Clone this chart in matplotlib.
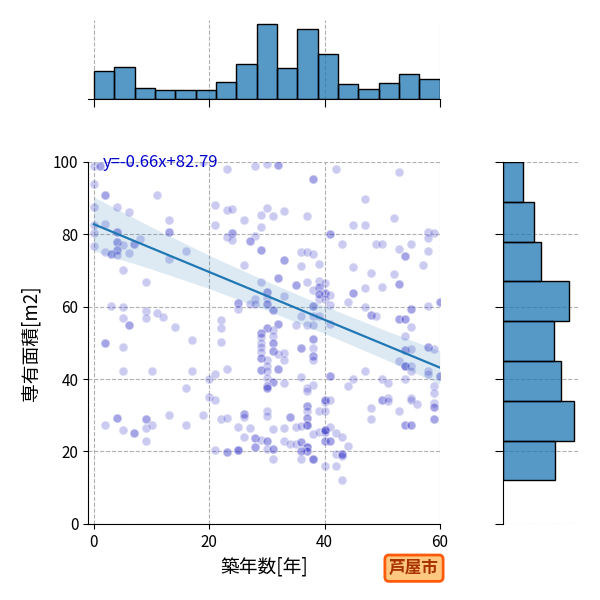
import numpy as np
import matplotlib
matplotlib.use('Agg')
import matplotlib.pyplot as plt

plt.rcParams['font.family'] = ['Noto Sans CJK JP', 'DejaVu Sans']

# (築年数, 専有面積); repeated pairs are the darker (overlapping) dots
points = [
    (0, 99), (1, 99), (1, 99), (6, 100), (19, 100), (0, 94), (2, 91), (2, 91), (11, 91),
    (0, 87.5), (4, 87.6), (6, 86.2), (13, 84), (0, 82.7), (2, 83), (0, 80.4), (4, 80.7), (4, 80.7),
    (13, 80.7), (13, 80.7), (8, 78.8), (4, 77.8), (4, 77.8), (5, 77), (7, 77.2), (7, 77.2),
    (0, 76.7), (2, 75.1), (4, 75.6), (4, 75.6), (3, 74.7), (3, 74.7), (6, 74.9), (4, 74.2),
    (16, 75.5), (13, 73.2), (5, 70.2),
    (23, 98.2), (28, 98.8), (30, 99.4), (32, 99.1), (32, 99.1), (38, 95.4), (38, 95.4), (21, 88.2),
    (23, 86.8), (24, 87.1), (30, 87.3), (33, 86.5), (29, 85.4), (31, 85.2), (37, 85.2), (26, 84),
    (21, 82.7), (29, 82.1), (24, 80.3), (24, 80.3), (23, 79.4), (24, 78.5), (28, 79.6), (27, 78.1),
    (27, 78.1), (29, 75.8), (29, 75.8), (33, 72.8), (33, 72.8), (36, 75.1), (37, 75.1), (38, 74.6),
    (26, 71.4), (36, 71.2), (39, 71.8),
    (42, 98.2), (53, 97.2), (47, 89.9), (52, 84.5), (45, 82.7), (47, 82.7), (41, 80.2), (41, 80.2),
    (58, 80.7), (59, 80.4), (58, 79), (43, 77.2), (49, 77.3), (50, 77.2), (55, 77.3), (53, 76),
    (54, 73.9), (54, 73.9), (58, 75.3), (45, 71), (57, 71.6), (48, 69.3), (52, 69.1),
    (9, 66.7), (3, 60.3), (5, 59.8), (9, 58.9), (11, 58.3), (12, 57.2), (5, 56.9), (9, 56.9),
    (6, 55), (6, 55), (14, 54.4), (2, 50), (2, 50), (5, 48.8), (17, 50.9), (5, 42.2), (10, 42.2),
    (17, 42.2), (20, 39.9), (16, 37.6),
    (32, 68), (32, 68), (29, 66.7), (35, 66.1), (35, 66.1), (37, 66.7), (39, 67.2), (39, 65.5),
    (39, 65.5), (38, 64.6), (30, 64), (30, 64), (33, 63.1), (28, 62.2), (30, 62.4), (25, 61),
    (25, 61), (27, 60.8), (28, 60.8), (30, 60.8), (30, 60.8), (38, 60.1), (38, 60.1), (39, 62),
    (25, 59.4), (31, 59.2), (31, 59.2), (36, 57.5), (38, 57.4), (39, 57.4), (22, 56.2), (22, 54.1),
    (32, 55.3), (32, 55.3), (30, 54.1), (30, 54.1), (31, 53.7), (35, 55), (37, 55), (38, 55),
    (29, 52.8), (29, 52.8), (29, 51.5), (29, 50.1), (29, 48.8), (29, 47.6), (29, 45.9), (29, 45.9),
    (31, 51.8), (31, 50), (31, 50), (31, 47.7), (31, 47.7), (32, 46.8), (33, 47.2), (33, 45.2),
    (38, 51.1), (38, 51.1), (38, 48.6), (38, 46.5), (38, 46.5), (38, 45.2), (36, 48.6), (36, 48.6),
    (22, 50.2), (30, 45.2), (30, 43.5), (29, 42.6), (29, 42.6), (30, 42.2), (32, 42.9), (32, 42.9),
    (30, 40.4), (31, 39.1), (31, 39.1), (30, 38), (30, 38), (33, 38.8), (23, 42.9), (21, 41.5),
    (36, 40.6), (38, 38.5), (37, 37.6),
    (40, 66.6), (40, 63.8), (40, 63.8), (39, 63.6), (39, 63.6), (41, 63.3), (40, 62), (45, 63.8),
    (45, 63.8), (47, 65.2), (50, 65.5), (53, 66.4), (53, 66.4), (44, 61.3), (41, 60.4), (47, 59.9),
    (48, 57.8), (48, 57.8), (49, 57.4), (53, 56.6), (53, 56.6), (54, 56.6), (54, 56.6), (55, 59.4),
    (55, 59.4), (58, 60.3), (60, 61.3), (60, 61.3), (55, 54.4), (54, 52), (54, 48.1), (54, 48.1),
    (55, 48.3), (58, 48.9), (58, 48.9), (59, 48.3), (53, 44.9), (54, 43.5), (54, 43.5), (54, 43.5),
    (55, 43.5), (55, 42.1), (58, 42.2), (58, 41.4), (60, 40.8), (60, 40.8), (41, 40.8), (41, 40.8),
    (45, 40), (47, 42.2), (50, 40), (51, 39), (54, 40), (44, 38.2), (41, 55.3), (59, 38),
    (20, 35), (4, 29.3), (4, 29.3), (2, 27.2), (5, 26), (7, 25.1), (7, 25.1), (9, 29.1), (9, 29.1),
    (9, 26.5), (10, 27.2), (9, 23), (13, 30.2), (16, 27.2), (19, 30.2),
    (30, 37.6), (30, 37.6), (37, 36.8), (21, 34.3), (22, 29.1), (23, 29.3), (26, 30.4), (26, 30.4),
    (26, 29.5), (30, 31.1), (30, 29.7), (34, 29.4), (34, 29.4), (37, 32.5), (37, 32.5), (37, 31.1),
    (37, 29.3), (37, 29.3), (37, 27.2), (37, 27.2), (37, 27.2), (39, 31.3), (40, 33.8), (25, 26.8),
    (27, 26.5), (31, 26.3), (33, 26.5), (35, 26.7), (36, 27), (38, 24.8), (39, 25.5), (40, 25.5),
    (40, 25.5), (26, 24), (28, 23.7), (28, 23.7), (28, 21.3), (28, 21.3), (29, 23.3), (30, 22.8),
    (30, 22.8), (30, 20.7), (31, 20.7), (31, 20.7), (31, 18), (33, 22.8), (34, 22.1), (35, 22.1),
    (36, 22.7), (36, 22.7), (37, 21.2), (37, 21.2), (37, 21.2), (37, 20.1), (37, 20.1), (36, 20.1),
    (36, 20.1), (36, 17.8), (38, 18), (38, 18), (38, 18), (40, 16), (21, 20.5), (23, 19.9),
    (23, 19.9), (25, 20.5), (25, 20.5), (25, 20.5),
    (40, 34.1), (40, 34.1), (41, 34.3), (40, 31.3), (48, 32), (48, 29), (50, 34.1), (50, 34.1),
    (51, 34.9), (51, 34), (53, 31.1), (55, 34.8), (55, 34.3), (56, 33.1), (59, 36.2), (59, 33.3),
    (59, 32.2), (59, 32.2), (59, 29), (59, 29), (54, 27.2), (54, 27.2), (55, 27.2), (55, 27.2),
    (40, 25.8), (40, 25.8), (40, 25.8), (40, 22.8), (40, 22.8), (41, 26.7), (41, 22.8), (41, 22.8),
    (42, 25.1), (43, 23.9), (44, 21.6), (42, 19.4), (43, 19.3), (43, 19.3), (43, 19.3), (43, 18.7),
    (42, 16.1), (43, 12),
]
age = np.array([p[0] for p in points], dtype=float)
area = np.array([p[1] for p in points], dtype=float)

# regression shown on the chart (coefficients from its label) and its confidence band
slope = -0.66
intercept = 82.79
band_x = [0, 10, 20, 30, 40, 50, 60]
band_lo = [75.4, 70.4, 65.0, 59.0, 52.6, 45.8, 38.6]
band_hi = [90.3, 82.0, 74.2, 67.0, 60.2, 53.8, 47.8]

# marginal histogram counts
age_edges = np.linspace(0, 60, 18)
age_counts = [28, 32, 11, 9, 9, 9, 17, 35, 75, 31, 70, 45, 15, 10, 16, 25, 20]
area_edges = [12, 23, 34, 45, 56, 67, 78, 89, 100]
area_counts = [61, 84, 69, 60, 78, 45, 37, 24]

eq_label = 'y=-0.66x+82.79'
city = '芦屋市'

hist_color = '#1f77b4'
grid_kw = dict(color='#b0b0b0', linestyle='--', linewidth=0.8)

fig = plt.figure(figsize=(6, 6), dpi=100)
ax = fig.add_axes([0.147, 0.127, 0.586, 0.603])
ax_top = fig.add_axes([0.147, 0.835, 0.586, 0.131], sharex=ax)
ax_right = fig.add_axes([0.838, 0.127, 0.125, 0.603], sharey=ax)

ax.scatter(age, area, s=40, color='#3030c8', alpha=0.25, edgecolors='white', linewidths=1, zorder=2)
fit_x = np.array([age.min(), age.max()])
ax.fill_between(band_x, band_lo, band_hi, color=hist_color, alpha=0.15, linewidth=0, zorder=2.5)
ax.plot(fit_x, intercept + slope * fit_x, color=hist_color, lw=1.6, zorder=3)
ax.text(1.6, 99.9, eq_label, color='#0000cd', fontsize=12, va='center', ha='left', zorder=4)

ax.set_xlim(-1, 60)
ax.set_ylim(0, 100)
ax.set_xticks([0, 20, 40, 60])
ax.set_yticks([0, 20, 40, 60, 80, 100])
ax.grid(True, **grid_kw)
ax.set_axisbelow(True)
for s in ['top', 'right']:
    ax.spines[s].set_visible(False)
ax.tick_params(labelsize=11)
ax.set_xlabel('築年数[年]', fontsize=13.5, labelpad=4)
ax.set_ylabel('専有面積[m2]', fontsize=13.5, labelpad=8)

ax_top.bar(age_edges[:-1], age_counts, width=np.diff(age_edges), align='edge',
           color=hist_color, alpha=0.75, linewidth=0)
ax_top.bar(age_edges[:-1], age_counts, width=np.diff(age_edges), align='edge',
           fill=False, edgecolor='black', linewidth=1)
ax_top.grid(True, axis='x', **grid_kw)
ax_top.set_axisbelow(True)
for s in ['top', 'right', 'left']:
    ax_top.spines[s].set_visible(False)
ax_top.tick_params(axis='x', labelbottom=False, length=6)
ax_top.tick_params(axis='y', left=False, labelleft=False)

area_w = np.diff(area_edges)
ax_right.barh(area_edges[:-1], area_counts, height=area_w, align='edge',
              color=hist_color, alpha=0.75, linewidth=0)
ax_right.barh(area_edges[:-1], area_counts, height=area_w, align='edge',
              fill=False, edgecolor='black', linewidth=1)
ax_right.grid(True, axis='y', **grid_kw)
ax_right.set_axisbelow(True)
for s in ['top', 'right', 'bottom']:
    ax_right.spines[s].set_visible(False)
ax_right.tick_params(axis='y', labelleft=False, length=6)
ax_right.tick_params(axis='x', bottom=False, labelbottom=False)

fig.text(0.69, 0.053, city, fontsize=12, fontweight='bold', color='#a83200',
         ha='center', va='center',
         bbox=dict(boxstyle='round,pad=0.25', facecolor='#ffc880', edgecolor='#ff5a0a', linewidth=2))

fig.savefig('out.png', dpi=100)
